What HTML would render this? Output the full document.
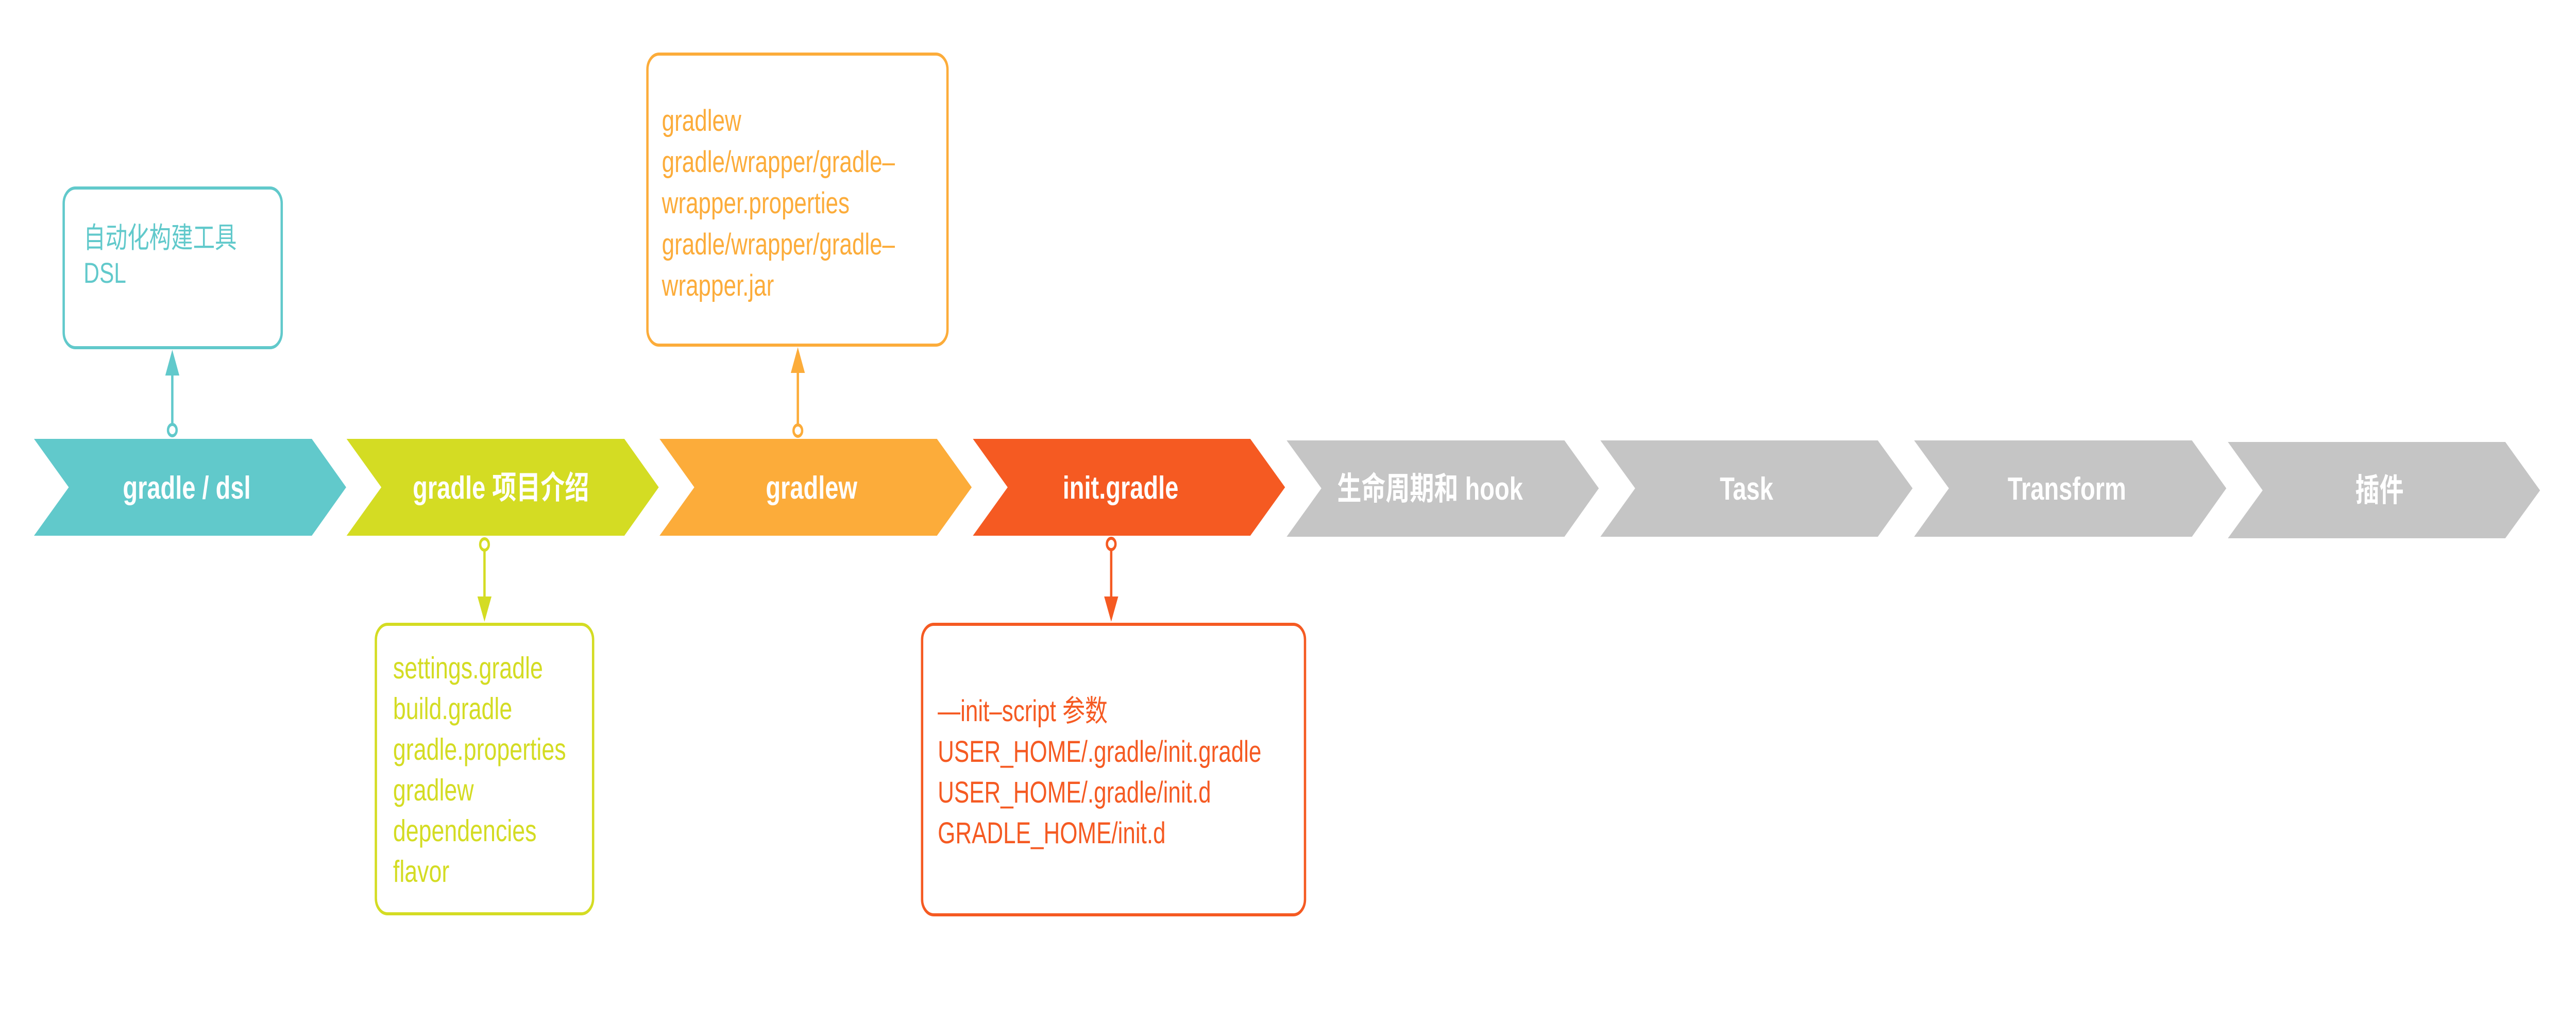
<!DOCTYPE html>
<html><head><meta charset="utf-8"><style>
html,body{margin:0;padding:0;background:#fff;width:100%;height:100%;overflow:hidden;}
svg{display:block;width:100vw;height:100vh;}
.t{font-family:"Liberation Sans","Noto Sans CJK SC",sans-serif;}
.b{font-family:"Liberation Sans","Noto Sans CJK SC",sans-serif;font-weight:bold;fill:#fff;font-size:62px;}
</style></head><body>
<svg viewBox="0 0 6593 1986" preserveAspectRatio="none" xmlns="http://www.w3.org/2000/svg">
<g>
<polygon points="87,852 798,852 886,946 798,1040 87,1040 176,946" fill="#61c9cb"/>
<polygon points="887,852 1598,852 1686,946 1598,1040 887,1040 976,946" fill="#d4dc23"/>
<polygon points="1688,852 2398,852 2487,946 2398,1040 1688,1040 1777,946" fill="#fcac3a"/>
<polygon points="2490,852 3200,852 3289,946 3200,1040 2490,1040 2579,946" fill="#f55a22"/>
<polygon points="3293,855 4004,855 4092,948 4004,1042 3293,1042 3382,948" fill="#c5c5c5"/>
<polygon points="4096,855 4806,855 4895,948 4806,1042 4096,1042 4185,948" fill="#c5c5c5"/>
<polygon points="4899,855 5610,855 5698,948 5610,1042 4899,1042 4988,948" fill="#c5c5c5"/>
<polygon points="5702,858 6412,858 6501,952 6412,1045 5702,1045 5791,952" fill="#c5c5c5"/>
</g>
<g class="b" text-anchor="middle">
<text x="478" y="968">gradle / dsl</text>
<text x="1282" y="968">gradle 项目介绍</text>
<text x="2077" y="968">gradlew</text>
<text x="2868" y="968">init.gradle</text>
<text x="3660" y="970">生命周期和 hook</text>
<text x="4470" y="970">Task</text>
<text x="5290" y="970">Transform</text>
<text x="6090" y="973">插件</text>
</g>
<rect x="163" y="365" width="558" height="310" rx="30" fill="none" stroke="#61c9cb" stroke-width="6"/>
<rect x="1657" y="105" width="768" height="565" rx="30" fill="none" stroke="#fcac3a" stroke-width="6"/>
<rect x="962" y="1212" width="556" height="562" rx="30" fill="none" stroke="#d4dc23" stroke-width="6"/>
<rect x="2360" y="1212" width="980" height="564" rx="30" fill="none" stroke="#f55a22" stroke-width="6"/>
<line x1="441" y1="823" x2="441" y2="720" stroke="#61c9cb" stroke-width="6"/>
<polygon points="441,679 423,729 459,729" fill="#61c9cb"/>
<circle cx="441" cy="835" r="11" fill="#fff" stroke="#61c9cb" stroke-width="6"/>
<line x1="2042" y1="823" x2="2042" y2="715" stroke="#fcac3a" stroke-width="6"/>
<polygon points="2042,674 2024,724 2060,724" fill="#fcac3a"/>
<circle cx="2042" cy="836" r="11" fill="#fff" stroke="#fcac3a" stroke-width="6"/>
<line x1="1240" y1="1068" x2="1240" y2="1165" stroke="#d4dc23" stroke-width="6"/>
<polygon points="1240,1207 1222,1158 1258,1158" fill="#d4dc23"/>
<circle cx="1240" cy="1057" r="11" fill="#fff" stroke="#d4dc23" stroke-width="6"/>
<line x1="2844" y1="1068" x2="2844" y2="1165" stroke="#f55a22" stroke-width="6"/>
<polygon points="2844,1207 2826,1158 2862,1158" fill="#f55a22"/>
<circle cx="2844" cy="1056" r="11" fill="#fff" stroke="#f55a22" stroke-width="6"/>
<g class="t" font-size="56" fill="#61c9cb">
<text x="214" y="481">自动化构建工具</text>
<text x="214" y="549">DSL</text>
</g>
<g class="t" font-size="58" fill="#fcac3a">
<text x="1694" y="254">gradlew</text>
<text x="1694" y="334">gradle/wrapper/gradle–</text>
<text x="1694" y="414">wrapper.properties</text>
<text x="1694" y="494">gradle/wrapper/gradle–</text>
<text x="1694" y="574">wrapper.jar</text>
</g>
<g class="t" font-size="59" fill="#d4dc23">
<text x="1006" y="1317">settings.gradle</text>
<text x="1006" y="1396">build.gradle</text>
<text x="1006" y="1475">gradle.properties</text>
<text x="1006" y="1554">gradlew</text>
<text x="1006" y="1633">dependencies</text>
<text x="1006" y="1712">flavor</text>
</g>
<g class="t" font-size="58" fill="#f55a22">
<text x="2400" y="1400">—init–script 参数</text>
<text x="2400" y="1479">USER_HOME/.gradle/init.gradle</text>
<text x="2400" y="1558">USER_HOME/.gradle/init.d</text>
<text x="2400" y="1637">GRADLE_HOME/init.d</text>
</g>
</svg>
</body></html>
